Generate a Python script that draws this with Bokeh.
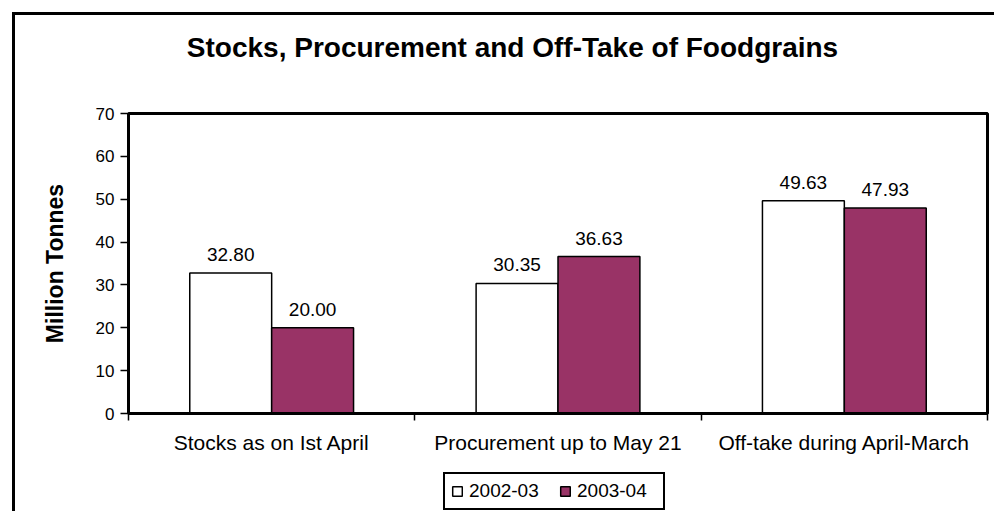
from bokeh.plotting import figure
from bokeh.layouts import column
from bokeh.models import (Range1d, FixedTicker, ColumnDataSource, LabelSet, Legend,
                          LegendItem, Label)
from bokeh.core.properties import value
from bokeh.transform import dodge
from bokeh.embed import file_html
from bokeh.resources import INLINE

# ---- data ----
title_text = "Stocks, Procurement and Off-Take of Foodgrains"
categories = ["Stocks as on Ist April", "Procurement up to May 21", "Off-take during April-March"]
series_names = ["2002-03", "2003-04"]
values_2002_03 = [32.80, 30.35, 49.63]
values_2003_04 = [20.00, 36.63, 47.93]
y_ticks = [0, 10, 20, 30, 40, 50, 60, 70]

FONT = "Liberation Sans"
PLUM = "#993366"
WIDTH = 979

pos = [i + 0.5 for i in range(len(categories))]
src = ColumnDataSource(dict(
    x=pos,
    a=values_2002_03,
    b=values_2003_04,
    la=["%.2f" % v for v in values_2002_03],
    lb=["%.2f" % v for v in values_2003_04],
))


def blank_fig(h):
    f = figure(width=WIDTH, height=h, x_axis_type=None, y_axis_type=None,
               toolbar_location=None, output_backend="svg", min_border=0,
               outline_line_color=None, background_fill_color="white",
               border_fill_color="white")
    f.grid.visible = False
    return f


# ---- title strip ----
tf = blank_fig(86)
tf.add_layout(Label(x=384, y=54, x_units="screen", y_units="screen", text=title_text,
                    text_align="center", text_baseline="alphabetic", text_font=FONT,
                    text_font_size="28px", text_font_style="bold", text_color="black"))

# ---- main chart ----
p = figure(width=WIDTH, height=365, x_range=Range1d(0, len(categories)),
           y_range=Range1d(0, 70), output_backend="svg", toolbar_location=None,
           min_border_left=113, min_border_top=12, min_border_right=7,
           min_border_bottom=53, background_fill_color="white",
           border_fill_color="white")
p.grid.visible = False
p.outline_line_color = "black"
p.outline_line_width = 3

W = 0.286
OFF = 0.143
bar_a = dict(fill_color="white", line_color="black", line_width=1.5)
bar_b = dict(fill_color=PLUM, line_color="black", line_width=1.5)
p.vbar(x=dodge("x", -OFF, range=p.x_range), top="a", width=W, source=src, **bar_a)
p.vbar(x=dodge("x", OFF, range=p.x_range), top="b", width=W, source=src, **bar_b)

for col, lab, off in (("a", "la", -OFF), ("b", "lb", OFF)):
    p.add_layout(LabelSet(x=dodge("x", off, range=p.x_range), y=col, text=lab, source=src,
                          text_align="center", text_baseline="alphabetic", y_offset=12,
                          text_font=value(FONT), text_font_size=value("19px"),
                          text_color="black"))

xa = p.xaxis[0]
xa.ticker = FixedTicker(ticks=pos, minor_ticks=list(range(len(categories) + 1)))
xa.major_label_overrides = {pv: c for pv, c in zip(pos, categories)}
xa.major_tick_line_color = None
xa.major_tick_out = 0
xa.major_tick_in = 0
xa.minor_tick_out = 7
xa.minor_tick_in = 0
xa.minor_tick_line_color = "black"
xa.minor_tick_line_width = 1.5
xa.axis_line_width = 3
xa.axis_line_color = "black"
xa.major_label_text_font = FONT
xa.major_label_text_font_size = "21px"
xa.major_label_text_color = "black"
xa.major_label_standoff = 10

ya = p.yaxis[0]
ya.ticker = FixedTicker(ticks=y_ticks)
ya.major_tick_out = 8
ya.major_tick_in = 0
ya.major_tick_line_width = 1.5
ya.major_tick_line_color = "black"
ya.minor_tick_line_color = None
ya.axis_line_width = 3
ya.axis_line_color = "black"
ya.major_label_text_font = FONT
ya.major_label_text_font_size = "17px"
ya.major_label_text_color = "black"
ya.major_label_standoff = 6
ya.axis_label = "Million Tonnes"
ya.axis_label_text_font = FONT
ya.axis_label_text_font_size = "23px"
ya.axis_label_text_font_style = "bold"
ya.axis_label_text_color = "black"
ya.axis_label_standoff = 25

# ---- legend strip ----
lf = blank_fig(45)
la = lf.vbar(x="x", top="a", width=W, source=src, visible=False, **bar_a)
lb = lf.vbar(x="x", top="b", width=W, source=src, visible=False, **bar_b)
legend = Legend(items=[LegendItem(label=series_names[0], renderers=[la]),
                       LegendItem(label=series_names[1], renderers=[lb])],
                orientation="horizontal", location=(315, 1),
                border_line_color="black", border_line_width=2, border_line_alpha=1,
                padding=6, spacing=10, margin=0,
                glyph_width=12, glyph_height=12, label_standoff=6, label_width=80,
                label_text_font=FONT, label_text_font_size="19px",
                label_text_color="black", background_fill_color="white",
                background_fill_alpha=1, inactive_fill_alpha=0)
lf.add_layout(legend, "center")

layout = column(tf, p, lf, spacing=0)
layout.styles = {"border-left": "3px solid black", "border-top": "3px solid black",
                 "margin-left": "12px", "margin-top": "12px", "box-sizing": "content-box"}

open("out.html", "w").write(file_html(layout, INLINE))
